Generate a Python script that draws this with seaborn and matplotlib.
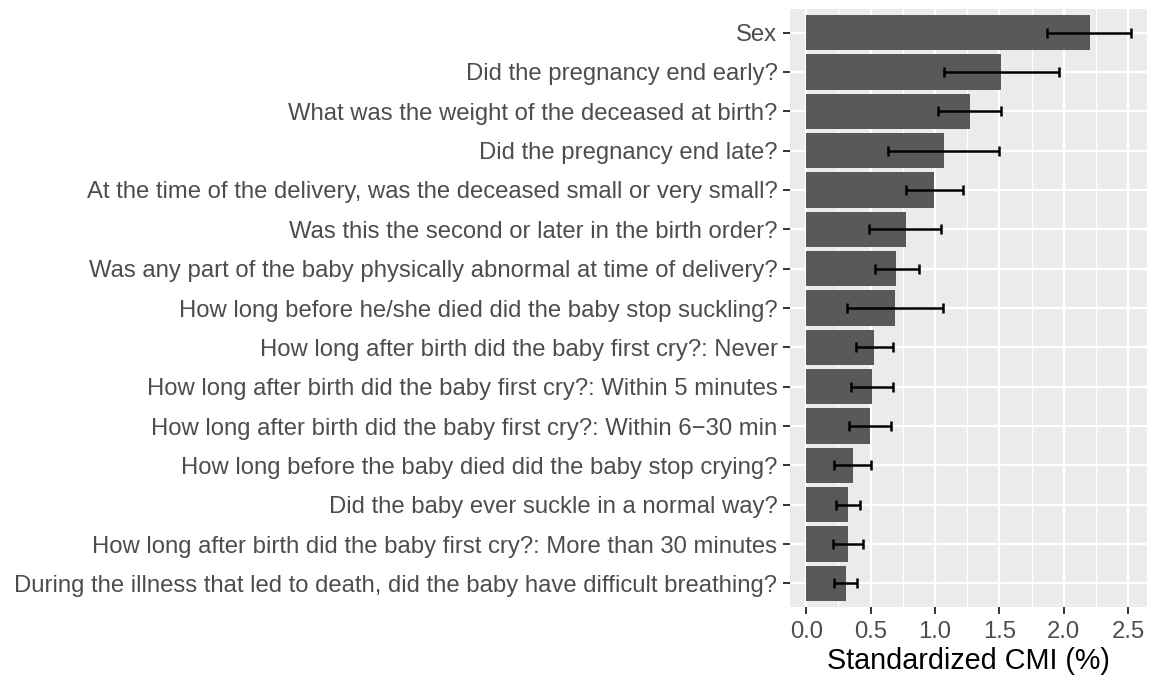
import matplotlib
matplotlib.use("Agg")
import matplotlib.pyplot as plt
import seaborn as sns
import pandas as pd
import numpy as np
from matplotlib.ticker import MultipleLocator

questions = [
    "Sex",
    "Did the pregnancy end early?",
    "What was the weight of the deceased at birth?",
    "Did the pregnancy end late?",
    "At the time of the delivery, was the deceased small or very small?",
    "Was this the second or later in the birth order?",
    "Was any part of the baby physically abnormal at time of delivery?",
    "How long before he/she died did the baby stop suckling?",
    "How long after birth did the baby first cry?: Never",
    "How long after birth did the baby first cry?: Within 5 minutes",
    "How long after birth did the baby first cry?: Within 6\u221230 min",
    "How long before the baby died did the baby stop crying?",
    "Did the baby ever suckle in a normal way?",
    "How long after birth did the baby first cry?: More than 30 minutes",
    "During the illness that led to death, did the baby have difficult breathing?",
]
cmi = [2.20, 1.51, 1.27, 1.07, 0.995, 0.777, 0.697, 0.69, 0.526, 0.51, 0.495, 0.363, 0.324, 0.324, 0.31]
lower = [1.87, 1.07, 1.02, 0.635, 0.777, 0.49, 0.534, 0.32, 0.383, 0.347, 0.332, 0.218, 0.233, 0.205, 0.218]
upper = [2.52, 1.96, 1.51, 1.50, 1.215, 1.05, 0.873, 1.06, 0.671, 0.676, 0.657, 0.505, 0.417, 0.44, 0.397]
x_ticks = [0.0, 0.5, 1.0, 1.5, 2.0, 2.5]
x_label = "Standardized CMI (%)"

df = pd.DataFrame({"question": questions, "cmi": cmi, "lower": lower, "upper": upper})

sns.set_theme(style="darkgrid")
plt.rcParams["font.family"] = ["Liberation Sans", "DejaVu Sans"]

fig = plt.figure(figsize=(11.53, 6.80), dpi=100)
ax = fig.add_axes([790 / 1153, 1 - 607 / 680, (1147 - 790) / 1153, (607 - 9) / 680])
ax.set_facecolor("#EBEBEB")

sns.barplot(data=df, x="cmi", y="question", order=questions, color="#595959",
            saturation=1, width=0.9, errorbar=None, ax=ax, zorder=2,
            edgecolor="none", linewidth=0)

ypos = np.arange(len(questions))
ax.errorbar(x=df["cmi"], y=ypos,
            xerr=[df["cmi"] - df["lower"], df["upper"] - df["cmi"]],
            fmt="none", ecolor="black", elinewidth=1.8, capsize=3.8, capthick=1.8, zorder=3)

ax.set_xlim(-0.126, 2.646)
ax.set_ylim(len(questions) - 0.4, -0.6)
ax.xaxis.set_major_locator(plt.FixedLocator(x_ticks))
ax.xaxis.set_minor_locator(MultipleLocator(0.25))
ax.set_xticklabels([f"{t:.1f}" for t in x_ticks])

ax.grid(which="major", color="white", linewidth=1.6)
ax.grid(which="minor", axis="x", color="white", linewidth=0.8)
ax.set_axisbelow(True)
for s in ax.spines.values():
    s.set_visible(False)

ax.tick_params(axis="y", which="major", length=5, width=1.4, color="#333333",
               labelcolor="#4D4D4D", labelsize=17.2, pad=4, left=True)
ax.tick_params(axis="x", which="major", length=5, width=1.4, color="#333333",
               labelcolor="#4D4D4D", labelsize=17.2, pad=5, bottom=True)
ax.tick_params(axis="x", which="minor", length=0)
ax.set_ylabel("")
ax.set_xlabel(x_label, fontsize=20.7, color="black", labelpad=3)

fig.savefig("out.png", dpi=100, facecolor="white")
